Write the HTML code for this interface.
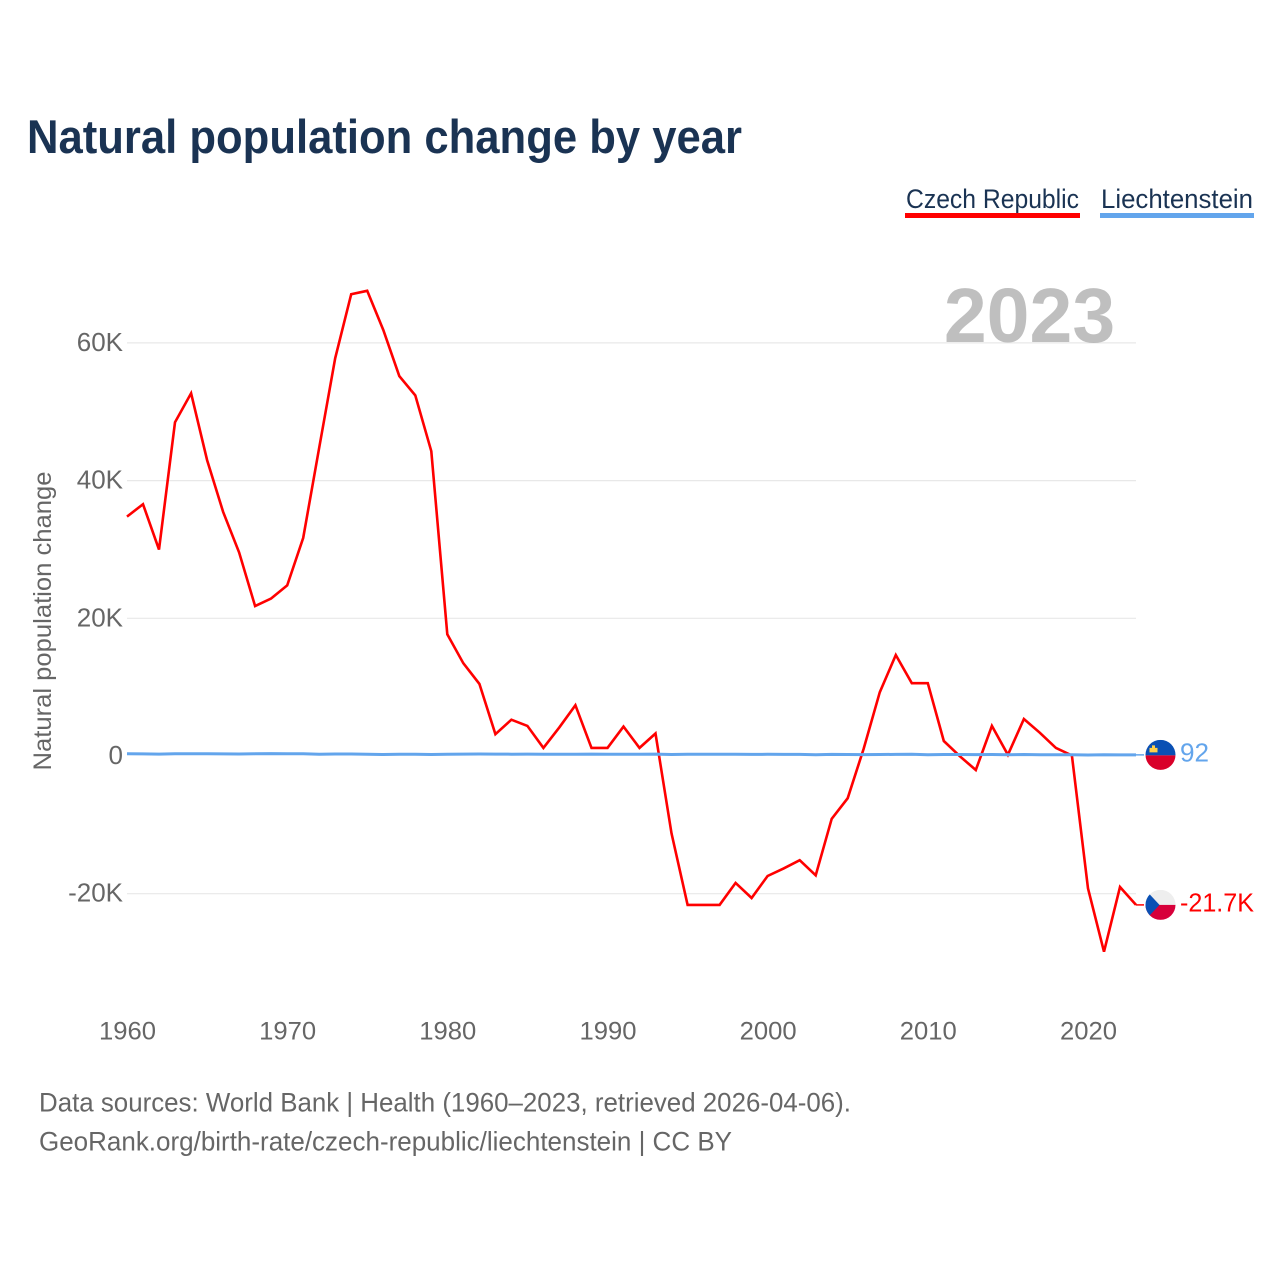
<!DOCTYPE html>
<html lang="en">
<head>
<meta charset="utf-8">
<title>Natural population change by year</title>
<style>
html,body{margin:0;padding:0;background:#fff;}
svg{display:block;font-family:"Liberation Sans",sans-serif;}
</style>
</head>
<body>
<svg id="chart" xmlns="http://www.w3.org/2000/svg" width="1280" height="1280" viewBox="0 0 1280 1280">
  <rect width="1280" height="1280" fill="#ffffff"/>
  <text x="27" y="153" font-size="47" font-weight="700" fill="#1a3353" textLength="715" lengthAdjust="spacingAndGlyphs">Natural population change by year</text>
  <g>
    <text x="906" y="208" font-size="27" fill="#1a3353" textLength="173" lengthAdjust="spacingAndGlyphs">Czech Republic</text>
    <rect x="905" y="213" width="175" height="5" fill="#ff0000"/>
  </g>
  <g>
    <text x="1101" y="208" font-size="27" fill="#1a3353" textLength="152" lengthAdjust="spacingAndGlyphs">Liechtenstein</text>
    <rect x="1100" y="213" width="154" height="5" fill="#63a5ec"/>
  </g>
  <text transform="translate(51,621) rotate(-90)" text-anchor="middle" font-size="25" fill="#666666" textLength="299" lengthAdjust="spacingAndGlyphs">Natural population change</text>
  <g id="grid"></g>
  <g id="yticks"></g>
  <g id="xticks"></g>
  <text id="yearLabel" x="1029.5" y="342" text-anchor="middle" font-size="77" font-weight="700" fill="#aaaaaa" fill-opacity="0.75">2023</text>
  <g id="series"></g>
  <g id="ends"></g>
  <text x="39" y="1111.5" font-size="27" fill="#666666" textLength="812" lengthAdjust="spacingAndGlyphs">Data sources: World Bank | Health (1960–2023, retrieved 2026-04-06).</text>
  <text x="39" y="1150.5" font-size="27" fill="#666666" textLength="693" lengthAdjust="spacingAndGlyphs">GeoRank.org/birth-rate/czech-republic/liechtenstein | CC BY</text>
</svg>
<script>
const firstYear = 1960;
const czechValues = [34700,36500,29900,48400,52600,42900,35400,29500,21700,22800,24700,31600,44700,57700,67000,67500,61800,55100,52300,44200,17600,13400,10400,3100,5200,4300,1100,4100,7300,1100,1100,4200,1100,3200,-11300,-21700,-21700,-21700,-18500,-20700,-17500,-16400,-15200,-17400,-9200,-6200,1000,9200,14600,10500,10500,2100,-100,-2100,4300,100,5300,3300,1100,0,-19300,-28500,-19100,-21700];
const liechtensteinValues = [250,230,210,260,240,240,230,220,240,270,250,240,190,220,220,190,150,170,170,150,190,210,220,210,190,210,180,170,180,200,180,190,190,200,150,170,180,170,170,160,170,160,160,120,160,140,130,140,160,170,110,150,150,130,140,120,140,120,120,110,70,110,90,92];
const yTickValues = [60000,40000,20000,0,-20000];
const yTickLabels = ['60K','40K','20K','0','-20K'];
const xTickValues = [1960,1970,1980,1990,2000,2010,2020];
const xTickLabels = ['1960','1970','1980','1990','2000','2010','2020'];

const SVG_NS = 'http://www.w3.org/2000/svg';
const xScale = year => 127 + (year - firstYear) * 16.016;
const yScale = value => 755.5 - value * 0.006885;

function make(tag, parent, attrs) {
  const el = document.createElementNS(SVG_NS, tag);
  for (const key in attrs) el.setAttribute(key, attrs[key]);
  parent.appendChild(el);
  return el;
}
function formatValue(v) {
  if (Math.abs(v) >= 1000) return (v / 1000).toFixed(1) + 'K';
  return String(v);
}

const grid = document.getElementById('grid');
const yticks = document.getElementById('yticks');
yTickValues.forEach((v, i) => {
  if (v !== 0) {
    const line = make('line', grid, {x1: 127, x2: 1136, y1: yScale(v) + 0.5, y2: yScale(v) + 0.5, stroke: '#e8e8e8', 'stroke-width': 1.2});
    
    
  }
  const label = make('text', yticks, {x: 123, y: yScale(v) + 8.5, 'text-anchor': 'end', 'font-size': 26, fill: '#666666'});
  
  
  label.textContent = yTickLabels[i];
});

const xticks = document.getElementById('xticks');
xTickValues.forEach((year, i) => {
  const label = make('text', xticks, {x: xScale(year) + 0.5, y: 1039.5, 'text-anchor': 'middle', 'font-size': 25, fill: '#666666', textLength: 57, lengthAdjust: 'spacingAndGlyphs'});
  
  
  label.textContent = xTickLabels[i];
});

const series = document.getElementById('series');
function drawLine(values, color, width) {
  const pts = values.map((v, i) => xScale(firstYear + i).toFixed(1) + ',' + yScale(v).toFixed(1));
  return make('polyline', series, {points: pts.join(' '), fill: 'none', stroke: color, 'stroke-width': width, 'stroke-linejoin': 'miter'});
}
const czechLine = drawLine(czechValues, '#ff0000', 2.6);


const liechLine = drawLine(liechtensteinValues, '#63a5ec', 3);



const ends = document.getElementById('ends');
const defs = make('defs', ends, {});
const lastX = xScale(firstYear + czechValues.length - 1);
const flagCx = 1160.5;
const flagR = 15;

function endCommon(values, color, clipId) {
  const y = yScale(values[values.length - 1]);
  const connector = make('line', ends, {x1: lastX, x2: 1144, y1: y, y2: y, stroke: color, 'stroke-width': 1.5});
  
  
  const clip = make('clipPath', defs, {id: clipId});
  make('circle', clip, {cx: flagCx, cy: y, r: flagR});
  const flag = make('g', ends, {'clip-path': 'url(#' + clipId + ')'});
  const label = make('text', ends, {x: 1180, y: y + 6.5, 'font-size': 26, fill: color});
  label.textContent = formatValue(values[values.length - 1]);
  return {y, flag, label};
}

const li = endCommon(liechtensteinValues, '#63a5ec', 'clip-li');




li.label.setAttribute('textLength', '29');
li.label.setAttribute('lengthAdjust', 'spacingAndGlyphs');
make('rect', li.flag, {x: flagCx - flagR, y: li.y - flagR, width: 30, height: 15.5, fill: '#0a50b4'});
make('rect', li.flag, {x: flagCx - flagR, y: li.y + 0.5, width: 30, height: 15, fill: '#d90029'});
make('rect', li.flag, {x: flagCx - 11, y: li.y - 7, width: 8, height: 4.5, fill: '#ffd04a'});
make('rect', li.flag, {x: flagCx - 8.5, y: li.y - 9.5, width: 3, height: 3, fill: '#ffd04a'});

const cz = endCommon(czechValues, '#ff0000', 'clip-cz');




cz.label.setAttribute('textLength', '74');
cz.label.setAttribute('lengthAdjust', 'spacingAndGlyphs');
make('rect', cz.flag, {x: flagCx - flagR, y: cz.y - flagR, width: 30, height: 15, fill: '#eeeeee'});
make('rect', cz.flag, {x: flagCx - flagR, y: cz.y, width: 30, height: 15, fill: '#d7003a'});
make('polygon', cz.flag, {points: (flagCx - flagR) + ',' + (cz.y - flagR) + ' ' + (flagCx - 1) + ',' + cz.y + ' ' + (flagCx - flagR) + ',' + (cz.y + flagR), fill: '#0a50b4'});
</script>
</body>
</html>
